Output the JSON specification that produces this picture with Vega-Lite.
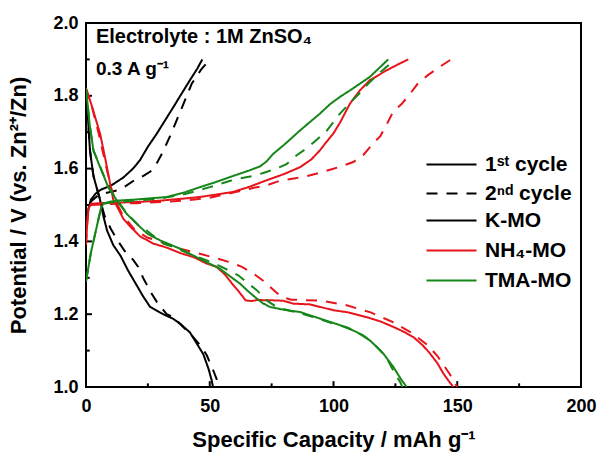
{
  "$schema": "https://vega.github.io/schema/vega-lite/v6.json",
  "width": 495,
  "height": 364,
  "autosize": {"type": "none"},
  "padding": {"left": 86, "top": 23, "right": 18, "bottom": 67},
  "background": "white",
  "config": {
    "font": "Liberation Sans",
    "view": {"stroke": "black", "strokeWidth": 2},
    "axis": {"labelFont": "Liberation Sans", "labelFontWeight": "bold", "labelFontSize": 18, "labelColor": "black", "titleFont": "Liberation Sans", "titleFontWeight": "bold", "titleFontSize": 22, "titleColor": "black", "domain": false, "ticks": false, "grid": false, "zindex": 1},
    "legend": {"labelFont": "Liberation Sans", "labelFontWeight": "bold", "labelFontSize": 21, "labelColor": "black", "padding": 0}
  },
  "layer": [
    {
      "data": {"values": [{"v": 50}, {"v": 100}, {"v": 150}]},
      "mark": {"type": "rule", "color": "black", "strokeWidth": 2},
      "encoding": {"x": {"field": "v", "type": "quantitative", "title": "Specific Capacity / mAh g⁻¹"}, "y": {"datum": 1.0}, "y2": {"datum": 1.016}}
    },
    {
      "data": {"values": [{"v": 25}, {"v": 75}, {"v": 125}, {"v": 175}]},
      "mark": {"type": "rule", "color": "black", "strokeWidth": 2},
      "encoding": {"x": {"field": "v", "type": "quantitative", "title": "Specific Capacity / mAh g⁻¹"}, "y": {"datum": 1.0}, "y2": {"datum": 1.01}}
    },
    {
      "data": {"values": [{"v": 1.2}, {"v": 1.4}, {"v": 1.6}, {"v": 1.8}]},
      "mark": {"type": "rule", "color": "black", "strokeWidth": 2},
      "encoding": {"y": {"field": "v", "type": "quantitative", "title": "Potential / V (vs. Zn²⁺/Zn)"}, "x": {"datum": 0}, "x2": {"datum": 2.4}}
    },
    {
      "data": {"values": [{"v": 1.1}, {"v": 1.3}, {"v": 1.5}, {"v": 1.7}, {"v": 1.9}]},
      "mark": {"type": "rule", "color": "black", "strokeWidth": 2},
      "encoding": {"y": {"field": "v", "type": "quantitative", "title": "Potential / V (vs. Zn²⁺/Zn)"}, "x": {"datum": 0}, "x2": {"datum": 1.5}}
    },
    {
      "data": {
        "values": [
          {"s":"K-MO","c":"1st","p":"ch","x":0,"y":1.44},{"s":"K-MO","c":"1st","p":"ch","x":1,"y":1.49},{"s":"K-MO","c":"1st","p":"ch","x":2,"y":1.515},{"s":"K-MO","c":"1st","p":"ch","x":4,"y":1.532},{"s":"K-MO","c":"1st","p":"ch","x":6,"y":1.542},{"s":"K-MO","c":"1st","p":"ch","x":10,"y":1.553},{"s":"K-MO","c":"1st","p":"ch","x":15,"y":1.575},{"s":"K-MO","c":"1st","p":"ch","x":19,"y":1.6},{"s":"K-MO","c":"1st","p":"ch","x":21.8,"y":1.623},{"s":"K-MO","c":"1st","p":"ch","x":25,"y":1.66},{"s":"K-MO","c":"1st","p":"ch","x":28.6,"y":1.696},{"s":"K-MO","c":"1st","p":"ch","x":32,"y":1.733},{"s":"K-MO","c":"1st","p":"ch","x":35.3,"y":1.769},{"s":"K-MO","c":"1st","p":"ch","x":39,"y":1.81},{"s":"K-MO","c":"1st","p":"ch","x":42,"y":1.843},{"s":"K-MO","c":"1st","p":"ch","x":45,"y":1.875},{"s":"K-MO","c":"1st","p":"ch","x":47,"y":1.9},
          {"s":"K-MO","c":"2nd","p":"ch","x":0,"y":1.45},{"s":"K-MO","c":"2nd","p":"ch","x":1,"y":1.49},{"s":"K-MO","c":"2nd","p":"ch","x":2,"y":1.51},{"s":"K-MO","c":"2nd","p":"ch","x":5,"y":1.527},{"s":"K-MO","c":"2nd","p":"ch","x":8,"y":1.533},{"s":"K-MO","c":"2nd","p":"ch","x":12.4,"y":1.54},{"s":"K-MO","c":"2nd","p":"ch","x":16,"y":1.552},{"s":"K-MO","c":"2nd","p":"ch","x":20,"y":1.57},{"s":"K-MO","c":"2nd","p":"ch","x":23.2,"y":1.58},{"s":"K-MO","c":"2nd","p":"ch","x":26,"y":1.592},{"s":"K-MO","c":"2nd","p":"ch","x":28.6,"y":1.615},{"s":"K-MO","c":"2nd","p":"ch","x":31,"y":1.645},{"s":"K-MO","c":"2nd","p":"ch","x":34,"y":1.69},{"s":"K-MO","c":"2nd","p":"ch","x":38,"y":1.755},{"s":"K-MO","c":"2nd","p":"ch","x":42.7,"y":1.833},{"s":"K-MO","c":"2nd","p":"ch","x":46.5,"y":1.872},{"s":"K-MO","c":"2nd","p":"ch","x":50,"y":1.9},
          {"s":"K-MO","c":"1st","p":"dis","x":0,"y":1.82},{"s":"K-MO","c":"1st","p":"dis","x":0.5,"y":1.77},{"s":"K-MO","c":"1st","p":"dis","x":1.6,"y":1.65},{"s":"K-MO","c":"1st","p":"dis","x":3,"y":1.58},{"s":"K-MO","c":"1st","p":"dis","x":5.7,"y":1.513},{"s":"K-MO","c":"1st","p":"dis","x":7,"y":1.47},{"s":"K-MO","c":"1st","p":"dis","x":8.5,"y":1.43},{"s":"K-MO","c":"1st","p":"dis","x":11,"y":1.39},{"s":"K-MO","c":"1st","p":"dis","x":14,"y":1.36},{"s":"K-MO","c":"1st","p":"dis","x":17,"y":1.32},{"s":"K-MO","c":"1st","p":"dis","x":20,"y":1.285},{"s":"K-MO","c":"1st","p":"dis","x":23,"y":1.25},{"s":"K-MO","c":"1st","p":"dis","x":25.9,"y":1.22},{"s":"K-MO","c":"1st","p":"dis","x":31.2,"y":1.2},{"s":"K-MO","c":"1st","p":"dis","x":35.3,"y":1.187},{"s":"K-MO","c":"1st","p":"dis","x":38,"y":1.174},{"s":"K-MO","c":"1st","p":"dis","x":42,"y":1.15},{"s":"K-MO","c":"1st","p":"dis","x":44.7,"y":1.12},{"s":"K-MO","c":"1st","p":"dis","x":47.4,"y":1.09},{"s":"K-MO","c":"1st","p":"dis","x":49.5,"y":1.05},{"s":"K-MO","c":"1st","p":"dis","x":50.8,"y":1.018},{"s":"K-MO","c":"1st","p":"dis","x":51.3,"y":1.0},
          {"s":"K-MO","c":"2nd","p":"dis","x":0,"y":1.82},{"s":"K-MO","c":"2nd","p":"dis","x":0.5,"y":1.77},{"s":"K-MO","c":"2nd","p":"dis","x":1.6,"y":1.65},{"s":"K-MO","c":"2nd","p":"dis","x":3,"y":1.58},{"s":"K-MO","c":"2nd","p":"dis","x":5.7,"y":1.515},{"s":"K-MO","c":"2nd","p":"dis","x":7.5,"y":1.47},{"s":"K-MO","c":"2nd","p":"dis","x":10,"y":1.435},{"s":"K-MO","c":"2nd","p":"dis","x":13,"y":1.4},{"s":"K-MO","c":"2nd","p":"dis","x":16,"y":1.37},{"s":"K-MO","c":"2nd","p":"dis","x":19,"y":1.35},{"s":"K-MO","c":"2nd","p":"dis","x":21.1,"y":1.33},{"s":"K-MO","c":"2nd","p":"dis","x":23.2,"y":1.298},{"s":"K-MO","c":"2nd","p":"dis","x":26.5,"y":1.257},{"s":"K-MO","c":"2nd","p":"dis","x":28.6,"y":1.234},{"s":"K-MO","c":"2nd","p":"dis","x":32.6,"y":1.2},{"s":"K-MO","c":"2nd","p":"dis","x":35.3,"y":1.192},{"s":"K-MO","c":"2nd","p":"dis","x":40,"y":1.16},{"s":"K-MO","c":"2nd","p":"dis","x":42.7,"y":1.142},{"s":"K-MO","c":"2nd","p":"dis","x":46.7,"y":1.11},{"s":"K-MO","c":"2nd","p":"dis","x":48.8,"y":1.087},{"s":"K-MO","c":"2nd","p":"dis","x":51.4,"y":1.046},{"s":"K-MO","c":"2nd","p":"dis","x":53,"y":1.018},{"s":"K-MO","c":"2nd","p":"dis","x":53.7,"y":1.0},
          {"s":"NH₄-MO","c":"1st","p":"ch","x":0,"y":1.39},{"s":"NH₄-MO","c":"1st","p":"ch","x":0.5,"y":1.45},{"s":"NH₄-MO","c":"1st","p":"ch","x":1,"y":1.49},{"s":"NH₄-MO","c":"1st","p":"ch","x":2,"y":1.503},{"s":"NH₄-MO","c":"1st","p":"ch","x":5,"y":1.505},{"s":"NH₄-MO","c":"1st","p":"ch","x":10,"y":1.506},{"s":"NH₄-MO","c":"1st","p":"ch","x":20,"y":1.508},{"s":"NH₄-MO","c":"1st","p":"ch","x":30,"y":1.512},{"s":"NH₄-MO","c":"1st","p":"ch","x":40,"y":1.518},{"s":"NH₄-MO","c":"1st","p":"ch","x":46,"y":1.522},{"s":"NH₄-MO","c":"1st","p":"ch","x":52,"y":1.528},{"s":"NH₄-MO","c":"1st","p":"ch","x":59.5,"y":1.536},{"s":"NH₄-MO","c":"1st","p":"ch","x":66,"y":1.55},{"s":"NH₄-MO","c":"1st","p":"ch","x":73,"y":1.568},{"s":"NH₄-MO","c":"1st","p":"ch","x":80,"y":1.585},{"s":"NH₄-MO","c":"1st","p":"ch","x":86.5,"y":1.604},{"s":"NH₄-MO","c":"1st","p":"ch","x":91,"y":1.625},{"s":"NH₄-MO","c":"1st","p":"ch","x":94.5,"y":1.65},{"s":"NH₄-MO","c":"1st","p":"ch","x":97,"y":1.672},{"s":"NH₄-MO","c":"1st","p":"ch","x":99.9,"y":1.696},{"s":"NH₄-MO","c":"1st","p":"ch","x":102.6,"y":1.726},{"s":"NH₄-MO","c":"1st","p":"ch","x":106.7,"y":1.779},{"s":"NH₄-MO","c":"1st","p":"ch","x":110.7,"y":1.815},{"s":"NH₄-MO","c":"1st","p":"ch","x":114.7,"y":1.843},{"s":"NH₄-MO","c":"1st","p":"ch","x":121.5,"y":1.87},{"s":"NH₄-MO","c":"1st","p":"ch","x":126,"y":1.886},{"s":"NH₄-MO","c":"1st","p":"ch","x":130.2,"y":1.9},
          {"s":"NH₄-MO","c":"2nd","p":"ch","x":0,"y":1.39},{"s":"NH₄-MO","c":"2nd","p":"ch","x":0.5,"y":1.45},{"s":"NH₄-MO","c":"2nd","p":"ch","x":1,"y":1.49},{"s":"NH₄-MO","c":"2nd","p":"ch","x":2,"y":1.5},{"s":"NH₄-MO","c":"2nd","p":"ch","x":10,"y":1.503},{"s":"NH₄-MO","c":"2nd","p":"ch","x":20,"y":1.505},{"s":"NH₄-MO","c":"2nd","p":"ch","x":30,"y":1.508},{"s":"NH₄-MO","c":"2nd","p":"ch","x":40,"y":1.512},{"s":"NH₄-MO","c":"2nd","p":"ch","x":50,"y":1.52},{"s":"NH₄-MO","c":"2nd","p":"ch","x":60,"y":1.535},{"s":"NH₄-MO","c":"2nd","p":"ch","x":69,"y":1.549},{"s":"NH₄-MO","c":"2nd","p":"ch","x":73,"y":1.554},{"s":"NH₄-MO","c":"2nd","p":"ch","x":78,"y":1.566},{"s":"NH₄-MO","c":"2nd","p":"ch","x":84,"y":1.573},{"s":"NH₄-MO","c":"2nd","p":"ch","x":89,"y":1.579},{"s":"NH₄-MO","c":"2nd","p":"ch","x":93,"y":1.586},{"s":"NH₄-MO","c":"2nd","p":"ch","x":98.6,"y":1.597},{"s":"NH₄-MO","c":"2nd","p":"ch","x":102.6,"y":1.605},{"s":"NH₄-MO","c":"2nd","p":"ch","x":108,"y":1.618},{"s":"NH₄-MO","c":"2nd","p":"ch","x":112,"y":1.637},{"s":"NH₄-MO","c":"2nd","p":"ch","x":116,"y":1.669},{"s":"NH₄-MO","c":"2nd","p":"ch","x":119,"y":1.69},{"s":"NH₄-MO","c":"2nd","p":"ch","x":122,"y":1.728},{"s":"NH₄-MO","c":"2nd","p":"ch","x":124,"y":1.755},{"s":"NH₄-MO","c":"2nd","p":"ch","x":127.6,"y":1.778},{"s":"NH₄-MO","c":"2nd","p":"ch","x":131,"y":1.806},{"s":"NH₄-MO","c":"2nd","p":"ch","x":134,"y":1.833},{"s":"NH₄-MO","c":"2nd","p":"ch","x":138,"y":1.856},{"s":"NH₄-MO","c":"2nd","p":"ch","x":143,"y":1.88},{"s":"NH₄-MO","c":"2nd","p":"ch","x":147.5,"y":1.9},
          {"s":"NH₄-MO","c":"1st","p":"dis","x":0,"y":1.82},{"s":"NH₄-MO","c":"1st","p":"dis","x":2,"y":1.78},{"s":"NH₄-MO","c":"1st","p":"dis","x":5.7,"y":1.696},{"s":"NH₄-MO","c":"1st","p":"dis","x":8,"y":1.62},{"s":"NH₄-MO","c":"1st","p":"dis","x":9.7,"y":1.56},{"s":"NH₄-MO","c":"1st","p":"dis","x":11,"y":1.515},{"s":"NH₄-MO","c":"1st","p":"dis","x":13,"y":1.49},{"s":"NH₄-MO","c":"1st","p":"dis","x":15.1,"y":1.462},{"s":"NH₄-MO","c":"1st","p":"dis","x":18,"y":1.44},{"s":"NH₄-MO","c":"1st","p":"dis","x":21.8,"y":1.414},{"s":"NH₄-MO","c":"1st","p":"dis","x":27.2,"y":1.394},{"s":"NH₄-MO","c":"1st","p":"dis","x":32.6,"y":1.383},{"s":"NH₄-MO","c":"1st","p":"dis","x":38,"y":1.368},{"s":"NH₄-MO","c":"1st","p":"dis","x":43.4,"y":1.357},{"s":"NH₄-MO","c":"1st","p":"dis","x":48.8,"y":1.339},{"s":"NH₄-MO","c":"1st","p":"dis","x":52.8,"y":1.33},{"s":"NH₄-MO","c":"1st","p":"dis","x":56,"y":1.31},{"s":"NH₄-MO","c":"1st","p":"dis","x":59.5,"y":1.28},{"s":"NH₄-MO","c":"1st","p":"dis","x":62,"y":1.26},{"s":"NH₄-MO","c":"1st","p":"dis","x":64.5,"y":1.238},{"s":"NH₄-MO","c":"1st","p":"dis","x":67,"y":1.236},{"s":"NH₄-MO","c":"1st","p":"dis","x":69,"y":1.239},{"s":"NH₄-MO","c":"1st","p":"dis","x":75.7,"y":1.238},{"s":"NH₄-MO","c":"1st","p":"dis","x":79.7,"y":1.237},{"s":"NH₄-MO","c":"1st","p":"dis","x":83.8,"y":1.229},{"s":"NH₄-MO","c":"1st","p":"dis","x":90.5,"y":1.227},{"s":"NH₄-MO","c":"1st","p":"dis","x":99.9,"y":1.211},{"s":"NH₄-MO","c":"1st","p":"dis","x":106,"y":1.205},{"s":"NH₄-MO","c":"1st","p":"dis","x":113.4,"y":1.192},{"s":"NH₄-MO","c":"1st","p":"dis","x":119,"y":1.18},{"s":"NH₄-MO","c":"1st","p":"dis","x":124.2,"y":1.165},{"s":"NH₄-MO","c":"1st","p":"dis","x":128,"y":1.153},{"s":"NH₄-MO","c":"1st","p":"dis","x":132.3,"y":1.137},{"s":"NH₄-MO","c":"1st","p":"dis","x":136,"y":1.115},{"s":"NH₄-MO","c":"1st","p":"dis","x":139,"y":1.092},{"s":"NH₄-MO","c":"1st","p":"dis","x":142,"y":1.065},{"s":"NH₄-MO","c":"1st","p":"dis","x":144.4,"y":1.037},{"s":"NH₄-MO","c":"1st","p":"dis","x":146.5,"y":1.017},{"s":"NH₄-MO","c":"1st","p":"dis","x":148.4,"y":1.0},
          {"s":"NH₄-MO","c":"2nd","p":"dis","x":0,"y":1.82},{"s":"NH₄-MO","c":"2nd","p":"dis","x":2,"y":1.78},{"s":"NH₄-MO","c":"2nd","p":"dis","x":5,"y":1.7},{"s":"NH₄-MO","c":"2nd","p":"dis","x":10,"y":1.55},{"s":"NH₄-MO","c":"2nd","p":"dis","x":12,"y":1.51},{"s":"NH₄-MO","c":"2nd","p":"dis","x":15,"y":1.47},{"s":"NH₄-MO","c":"2nd","p":"dis","x":20,"y":1.43},{"s":"NH₄-MO","c":"2nd","p":"dis","x":25,"y":1.41},{"s":"NH₄-MO","c":"2nd","p":"dis","x":30,"y":1.4},{"s":"NH₄-MO","c":"2nd","p":"dis","x":38,"y":1.38},{"s":"NH₄-MO","c":"2nd","p":"dis","x":45,"y":1.368},{"s":"NH₄-MO","c":"2nd","p":"dis","x":52,"y":1.355},{"s":"NH₄-MO","c":"2nd","p":"dis","x":58,"y":1.343},{"s":"NH₄-MO","c":"2nd","p":"dis","x":63,"y":1.33},{"s":"NH₄-MO","c":"2nd","p":"dis","x":68,"y":1.31},{"s":"NH₄-MO","c":"2nd","p":"dis","x":72,"y":1.29},{"s":"NH₄-MO","c":"2nd","p":"dis","x":76,"y":1.265},{"s":"NH₄-MO","c":"2nd","p":"dis","x":79,"y":1.247},{"s":"NH₄-MO","c":"2nd","p":"dis","x":83,"y":1.24},{"s":"NH₄-MO","c":"2nd","p":"dis","x":95,"y":1.237},{"s":"NH₄-MO","c":"2nd","p":"dis","x":105,"y":1.225},{"s":"NH₄-MO","c":"2nd","p":"dis","x":115,"y":1.205},{"s":"NH₄-MO","c":"2nd","p":"dis","x":124,"y":1.178},{"s":"NH₄-MO","c":"2nd","p":"dis","x":132,"y":1.147},{"s":"NH₄-MO","c":"2nd","p":"dis","x":138,"y":1.115},{"s":"NH₄-MO","c":"2nd","p":"dis","x":142,"y":1.085},{"s":"NH₄-MO","c":"2nd","p":"dis","x":147,"y":1.035},{"s":"NH₄-MO","c":"2nd","p":"dis","x":150,"y":1.0},
          {"s":"TMA-MO","c":"1st","p":"ch","x":0,"y":1.29},{"s":"TMA-MO","c":"1st","p":"ch","x":2,"y":1.37},{"s":"TMA-MO","c":"1st","p":"ch","x":4,"y":1.43},{"s":"TMA-MO","c":"1st","p":"ch","x":6,"y":1.49},{"s":"TMA-MO","c":"1st","p":"ch","x":7,"y":1.504},{"s":"TMA-MO","c":"1st","p":"ch","x":9,"y":1.508},{"s":"TMA-MO","c":"1st","p":"ch","x":12.4,"y":1.512},{"s":"TMA-MO","c":"1st","p":"ch","x":20,"y":1.515},{"s":"TMA-MO","c":"1st","p":"ch","x":32.6,"y":1.522},{"s":"TMA-MO","c":"1st","p":"ch","x":40,"y":1.535},{"s":"TMA-MO","c":"1st","p":"ch","x":46,"y":1.549},{"s":"TMA-MO","c":"1st","p":"ch","x":52,"y":1.562},{"s":"TMA-MO","c":"1st","p":"ch","x":59.5,"y":1.58},{"s":"TMA-MO","c":"1st","p":"ch","x":66,"y":1.595},{"s":"TMA-MO","c":"1st","p":"ch","x":70.3,"y":1.606},{"s":"TMA-MO","c":"1st","p":"ch","x":73,"y":1.62},{"s":"TMA-MO","c":"1st","p":"ch","x":75.7,"y":1.641},{"s":"TMA-MO","c":"1st","p":"ch","x":80,"y":1.665},{"s":"TMA-MO","c":"1st","p":"ch","x":86.5,"y":1.705},{"s":"TMA-MO","c":"1st","p":"ch","x":94.5,"y":1.751},{"s":"TMA-MO","c":"1st","p":"ch","x":98.6,"y":1.777},{"s":"TMA-MO","c":"1st","p":"ch","x":102.6,"y":1.797},{"s":"TMA-MO","c":"1st","p":"ch","x":106.7,"y":1.815},{"s":"TMA-MO","c":"1st","p":"ch","x":114.7,"y":1.852},{"s":"TMA-MO","c":"1st","p":"ch","x":122.1,"y":1.9},
          {"s":"TMA-MO","c":"2nd","p":"ch","x":0,"y":1.29},{"s":"TMA-MO","c":"2nd","p":"ch","x":2,"y":1.37},{"s":"TMA-MO","c":"2nd","p":"ch","x":4,"y":1.43},{"s":"TMA-MO","c":"2nd","p":"ch","x":6,"y":1.49},{"s":"TMA-MO","c":"2nd","p":"ch","x":7,"y":1.503},{"s":"TMA-MO","c":"2nd","p":"ch","x":10,"y":1.507},{"s":"TMA-MO","c":"2nd","p":"ch","x":20,"y":1.512},{"s":"TMA-MO","c":"2nd","p":"ch","x":30,"y":1.518},{"s":"TMA-MO","c":"2nd","p":"ch","x":40,"y":1.53},{"s":"TMA-MO","c":"2nd","p":"ch","x":50,"y":1.549},{"s":"TMA-MO","c":"2nd","p":"ch","x":58,"y":1.566},{"s":"TMA-MO","c":"2nd","p":"ch","x":62,"y":1.573},{"s":"TMA-MO","c":"2nd","p":"ch","x":67.6,"y":1.58},{"s":"TMA-MO","c":"2nd","p":"ch","x":71.6,"y":1.588},{"s":"TMA-MO","c":"2nd","p":"ch","x":77,"y":1.6},{"s":"TMA-MO","c":"2nd","p":"ch","x":81,"y":1.612},{"s":"TMA-MO","c":"2nd","p":"ch","x":85,"y":1.636},{"s":"TMA-MO","c":"2nd","p":"ch","x":89,"y":1.655},{"s":"TMA-MO","c":"2nd","p":"ch","x":93,"y":1.678},{"s":"TMA-MO","c":"2nd","p":"ch","x":97,"y":1.702},{"s":"TMA-MO","c":"2nd","p":"ch","x":100.6,"y":1.733},{"s":"TMA-MO","c":"2nd","p":"ch","x":102.6,"y":1.751},{"s":"TMA-MO","c":"2nd","p":"ch","x":107,"y":1.783},{"s":"TMA-MO","c":"2nd","p":"ch","x":111,"y":1.81},{"s":"TMA-MO","c":"2nd","p":"ch","x":114,"y":1.833},{"s":"TMA-MO","c":"2nd","p":"ch","x":117.5,"y":1.856},{"s":"TMA-MO","c":"2nd","p":"ch","x":121.5,"y":1.88},{"s":"TMA-MO","c":"2nd","p":"ch","x":124.8,"y":1.9},
          {"s":"TMA-MO","c":"1st","p":"dis","x":0,"y":1.82},{"s":"TMA-MO","c":"1st","p":"dis","x":1.5,"y":1.72},{"s":"TMA-MO","c":"1st","p":"dis","x":3,"y":1.65},{"s":"TMA-MO","c":"1st","p":"dis","x":5.7,"y":1.604},{"s":"TMA-MO","c":"1st","p":"dis","x":9,"y":1.549},{"s":"TMA-MO","c":"1st","p":"dis","x":12.4,"y":1.513},{"s":"TMA-MO","c":"1st","p":"dis","x":16.4,"y":1.476},{"s":"TMA-MO","c":"1st","p":"dis","x":21.8,"y":1.44},{"s":"TMA-MO","c":"1st","p":"dis","x":25,"y":1.42},{"s":"TMA-MO","c":"1st","p":"dis","x":29.9,"y":1.403},{"s":"TMA-MO","c":"1st","p":"dis","x":38,"y":1.38},{"s":"TMA-MO","c":"1st","p":"dis","x":46,"y":1.352},{"s":"TMA-MO","c":"1st","p":"dis","x":54.1,"y":1.325},{"s":"TMA-MO","c":"1st","p":"dis","x":58,"y":1.305},{"s":"TMA-MO","c":"1st","p":"dis","x":62.2,"y":1.284},{"s":"TMA-MO","c":"1st","p":"dis","x":66,"y":1.26},{"s":"TMA-MO","c":"1st","p":"dis","x":69,"y":1.243},{"s":"TMA-MO","c":"1st","p":"dis","x":71.5,"y":1.23},{"s":"TMA-MO","c":"1st","p":"dis","x":74.3,"y":1.22},{"s":"TMA-MO","c":"1st","p":"dis","x":80,"y":1.212},{"s":"TMA-MO","c":"1st","p":"dis","x":86.5,"y":1.206},{"s":"TMA-MO","c":"1st","p":"dis","x":94.5,"y":1.188},{"s":"TMA-MO","c":"1st","p":"dis","x":102.6,"y":1.17},{"s":"TMA-MO","c":"1st","p":"dis","x":109.4,"y":1.151},{"s":"TMA-MO","c":"1st","p":"dis","x":114.7,"y":1.128},{"s":"TMA-MO","c":"1st","p":"dis","x":117.5,"y":1.11},{"s":"TMA-MO","c":"1st","p":"dis","x":120.1,"y":1.092},{"s":"TMA-MO","c":"1st","p":"dis","x":122.3,"y":1.072},{"s":"TMA-MO","c":"1st","p":"dis","x":124.2,"y":1.055},{"s":"TMA-MO","c":"1st","p":"dis","x":126,"y":1.035},{"s":"TMA-MO","c":"1st","p":"dis","x":127.6,"y":1.018},{"s":"TMA-MO","c":"1st","p":"dis","x":129.6,"y":1.0},
          {"s":"TMA-MO","c":"2nd","p":"dis","x":0,"y":1.82},{"s":"TMA-MO","c":"2nd","p":"dis","x":1.5,"y":1.72},{"s":"TMA-MO","c":"2nd","p":"dis","x":3,"y":1.65},{"s":"TMA-MO","c":"2nd","p":"dis","x":5.7,"y":1.606},{"s":"TMA-MO","c":"2nd","p":"dis","x":9,"y":1.55},{"s":"TMA-MO","c":"2nd","p":"dis","x":12.4,"y":1.515},{"s":"TMA-MO","c":"2nd","p":"dis","x":16.4,"y":1.478},{"s":"TMA-MO","c":"2nd","p":"dis","x":21.8,"y":1.44},{"s":"TMA-MO","c":"2nd","p":"dis","x":24.5,"y":1.43},{"s":"TMA-MO","c":"2nd","p":"dis","x":31.2,"y":1.394},{"s":"TMA-MO","c":"2nd","p":"dis","x":35.3,"y":1.385},{"s":"TMA-MO","c":"2nd","p":"dis","x":42,"y":1.365},{"s":"TMA-MO","c":"2nd","p":"dis","x":48.8,"y":1.348},{"s":"TMA-MO","c":"2nd","p":"dis","x":53.5,"y":1.334},{"s":"TMA-MO","c":"2nd","p":"dis","x":57.5,"y":1.321},{"s":"TMA-MO","c":"2nd","p":"dis","x":61.5,"y":1.307},{"s":"TMA-MO","c":"2nd","p":"dis","x":65.6,"y":1.284},{"s":"TMA-MO","c":"2nd","p":"dis","x":69,"y":1.266},{"s":"TMA-MO","c":"2nd","p":"dis","x":73,"y":1.238},{"s":"TMA-MO","c":"2nd","p":"dis","x":77,"y":1.22},{"s":"TMA-MO","c":"2nd","p":"dis","x":82,"y":1.21},{"s":"TMA-MO","c":"2nd","p":"dis","x":88,"y":1.2},{"s":"TMA-MO","c":"2nd","p":"dis","x":95,"y":1.185},{"s":"TMA-MO","c":"2nd","p":"dis","x":101,"y":1.172},{"s":"TMA-MO","c":"2nd","p":"dis","x":105,"y":1.165},{"s":"TMA-MO","c":"2nd","p":"dis","x":108,"y":1.156},{"s":"TMA-MO","c":"2nd","p":"dis","x":112,"y":1.142},{"s":"TMA-MO","c":"2nd","p":"dis","x":115.4,"y":1.124},{"s":"TMA-MO","c":"2nd","p":"dis","x":119.5,"y":1.096},{"s":"TMA-MO","c":"2nd","p":"dis","x":122,"y":1.073},{"s":"TMA-MO","c":"2nd","p":"dis","x":124.8,"y":1.037},{"s":"TMA-MO","c":"2nd","p":"dis","x":126.9,"y":1.014},{"s":"TMA-MO","c":"2nd","p":"dis","x":127.8,"y":1.0}
        ]
      },
      "mark": {"type": "line", "strokeWidth": 2, "clip": true},
      "encoding": {
        "x": {"field": "x", "type": "quantitative", "title": "Specific Capacity / mAh g⁻¹", "scale": {"domain": [0, 200], "nice": false, "zero": false},
          "axis": {"title": "Specific Capacity / mAh g⁻¹", "values": [0,25,50,75,100,125,150,175,200], "labelExpr": "datum.value % 50 == 0 ? datum.label : ''", "labelPadding": 10, "titlePadding": 14, "labelFlush": false}},
        "y": {"field": "y", "type": "quantitative", "title": "Potential / V (vs. Zn²⁺/Zn)", "scale": {"domain": [1, 2], "nice": false, "zero": false},
          "axis": {"title": "Potential / V (vs. Zn²⁺/Zn)", "values": [1.0,1.1,1.2,1.3,1.4,1.5,1.6,1.7,1.8,1.9,2.0], "labelExpr": "round(datum.value*10) % 2 == 0 ? format(datum.value, '.1f') : ''", "labelPadding": 8, "titlePadding": 22, "labelFlush": false}},
        "color": {"field": "s", "type": "nominal", "scale": {"domain": ["K-MO", "NH₄-MO", "TMA-MO"], "range": ["#000000", "#e8141b", "#16861a"]},
          "legend": {"orient": "none", "legendX": 355, "legendY": 187, "title": null, "symbolType": "M-5,0H5", "symbolSize": 100, "symbolStrokeWidth": 2, "labelOffset": 23, "rowPadding": 8}},
        "strokeDash": {"field": "c", "type": "nominal", "scale": {"domain": ["1st", "2nd"], "range": [[1, 0], [11, 9]]},
          "legend": {"orient": "none", "legendX": 355, "legendY": 131, "title": null, "symbolType": "M-5,0H5", "symbolSize": 100, "symbolStrokeWidth": 2, "symbolStrokeColor": "black", "labelOffset": 23, "rowPadding": 7, "labelExpr": "datum.value == '1st' ? '1ˢᵗ cycle' : '2ⁿᵈ cycle'"}},
        "detail": {"field": "p", "type": "nominal"}
      }
    },
    {
      "data": {"values": [{"t": "Electrolyte : 1M ZnSO₄"}]},
      "mark": {"type": "text", "align": "left", "baseline": "alphabetic", "font": "Liberation Sans", "fontWeight": "bold", "fontSize": 20, "color": "black"},
      "encoding": {"x": {"datum": 4}, "y": {"datum": 1.944}, "text": {"field": "t"}}
    },
    {
      "data": {"values": [{"t": "0.3 A g⁻¹"}]},
      "mark": {"type": "text", "align": "left", "baseline": "alphabetic", "font": "Liberation Sans", "fontWeight": "bold", "fontSize": 19, "color": "black"},
      "encoding": {"x": {"datum": 4}, "y": {"datum": 1.856}, "text": {"field": "t"}}
    }
  ]
}
